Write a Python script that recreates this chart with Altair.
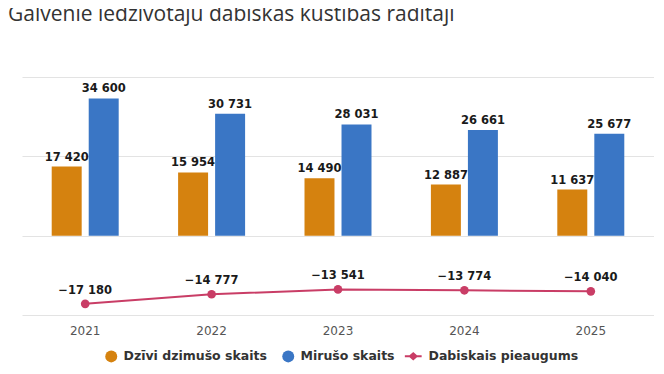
import altair as alt
import pandas as pd

years = ["2021", "2022", "2023", "2024", "2025"]
births = [17420, 15954, 14490, 12887, 11637]
deaths = [34600, 30731, 28031, 26661, 25677]
natural = [-17180, -14777, -13541, -13774, -14040]

S_BIRTH = "Dzīvi dzimušo skaits"
S_DEATH = "Mirušo skaits"
S_NAT = "Dabiskais pieaugums"
bar_series = [S_BIRTH, S_DEATH]
bar_colors = ["#d5820f", "#3a76c5"]
line_color = "#c93d66"


def fmt(v):
    s = f"{abs(v):,}".replace(",", " ")
    return ("\u2212" if v < 0 else "") + s


bars = pd.DataFrame(
    [{"year": y, "series": S_BIRTH, "value": v, "label": fmt(v)} for y, v in zip(years, births)]
    + [{"year": y, "series": S_DEATH, "value": v, "label": fmt(v)} for y, v in zip(years, deaths)]
)
line = pd.DataFrame(
    [{"year": y, "series": S_NAT, "value": v, "label": fmt(v)} for y, v in zip(years, natural)]
)

# line-with-marker legend symbol (polygon: line + diamond)
line_sym = ("M-1.4,-0.17 L-0.62,-0.17 L0,-0.72 L0.62,-0.17 L1.4,-0.17 "
            "L1.4,0.17 L0.62,0.17 L0,0.72 L-0.62,0.17 L-1.4,0.17 Z")

LABEL_FONT = "DejaVu Sans"

x_enc = alt.X(
    "year:N",
    title=None,
    sort=years,
    scale=alt.Scale(paddingInner=0.47, paddingOuter=0.235),
    axis=alt.Axis(labelFont=LABEL_FONT, labelFontSize=12, labelColor="#555555",
                  labelPadding=10, ticks=False, domain=False, grid=False, labelAngle=0),
)
y_enc = alt.Y(
    "value:Q",
    title=None,
    scale=alt.Scale(domain=[-20000, 40000], nice=False, zero=False),
    axis=alt.Axis(values=[-20000, 0, 20000, 40000], labels=False, ticks=False,
                  domain=False, grid=True, gridColor="#e3e3e3", gridWidth=1),
)
xoff = alt.XOffset("series:N", sort=bar_series,
                   scale=alt.Scale(paddingInner=0.19, paddingOuter=0))

common_leg = dict(orient="none", direction="horizontal", legendY=273,
                  symbolOpacity=1, symbolSize=144, symbolStrokeWidth=0,
                  labelFont=LABEL_FONT, labelFontSize=12.5,
                  labelFontWeight="bold", labelColor="#333333", title=None)

bar_layer = alt.Chart(bars).mark_bar().encode(
    x=x_enc, y=y_enc, xOffset=xoff,
    color=alt.Color("series:N", sort=bar_series, title=None,
                    scale=alt.Scale(domain=bar_series, range=bar_colors),
                    legend=alt.Legend(legendX=83, symbolType="circle",
                                      labelOffset=6, columnPadding=15, **common_leg)),
)
bar_text = alt.Chart(bars).mark_text(
    dy=-9, font=LABEL_FONT, fontSize=11.5, fontWeight="bold", color="#1a1a1a"
).encode(x=x_enc, y=y_enc, xOffset=xoff, text="label:N")

line_layer = alt.Chart(line).mark_line(strokeWidth=2, color=line_color).encode(x=x_enc, y=y_enc)
pt_layer = alt.Chart(line).mark_point(filled=True, size=75, color=line_color).encode(
    x=x_enc, y=y_enc,
    opacity=alt.Opacity("series:N", title=None,
                        scale=alt.Scale(domain=[S_NAT], range=[1]),
                        legend=alt.Legend(legendX=385, symbolType=line_sym,
                                          symbolFillColor=line_color,
                                          labelOffset=9, **common_leg)),
)
line_text = alt.Chart(line).mark_text(
    dy=-13, font=LABEL_FONT, fontSize=11.5, fontWeight="bold", color="#1a1a1a"
).encode(x=x_enc, y=y_enc, text="label:N")

chart = alt.layer(bar_layer, bar_text, line_layer, pt_layer, line_text).properties(
    width=632,
    height=238,
    autosize=alt.AutoSizeParams(type="none"),
    padding={"left": 14, "top": 69, "right": 0, "bottom": 51},
    title=alt.TitleParams(
        "Galvenie iedzīvotāju dabiskās kustības rādītāji",
        anchor="start", frame="group", offset=52, dx=-14,
        font="Open Sans", fontSize=21, fontWeight="normal", color="#333333",
    ),
).configure_view(stroke=None)

chart.save("out.html", embed_options={"renderer": "svg", "actions": False})
